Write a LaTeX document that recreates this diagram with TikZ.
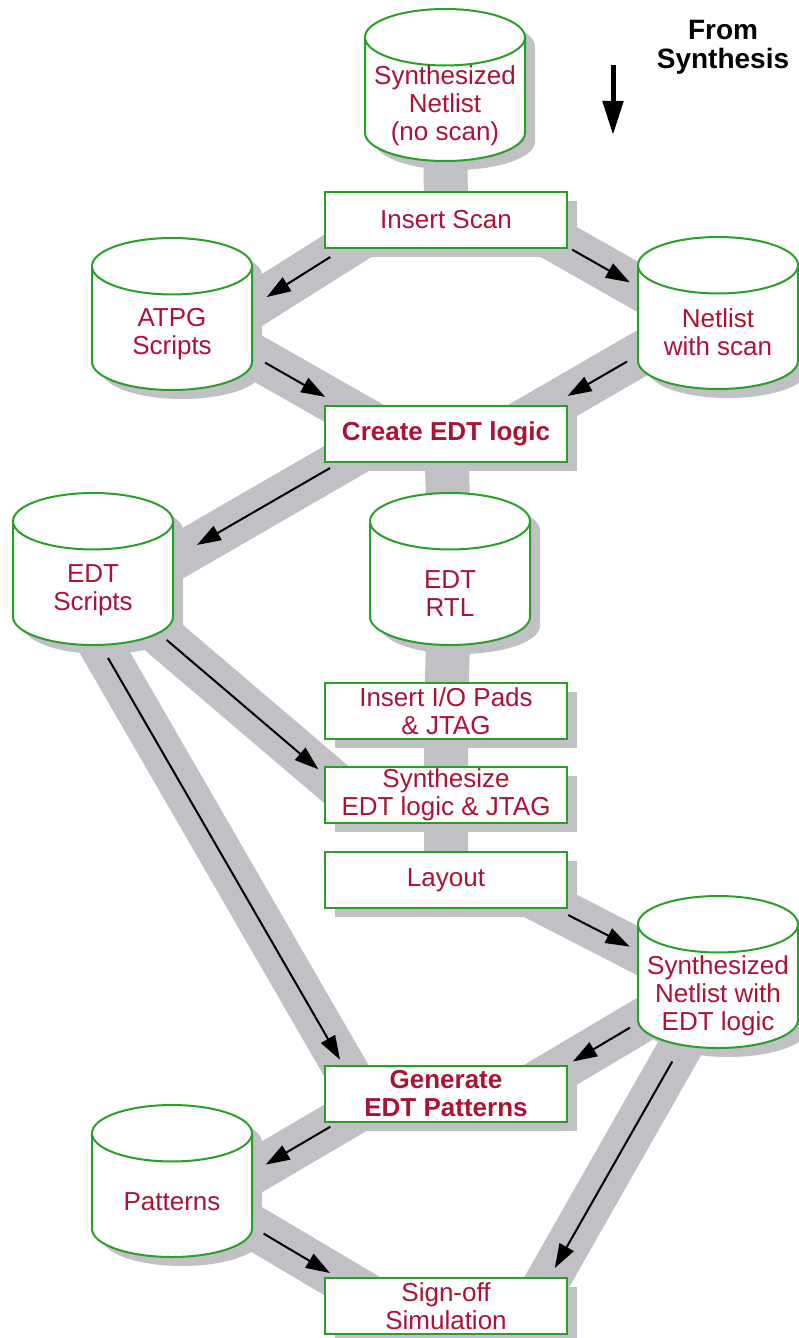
\documentclass[tikz,border=0pt]{standalone}
\usepackage{fontspec}
\setmainfont{Liberation Sans}
\usetikzlibrary{shapes.geometric, shadows, backgrounds, calc, arrows.meta}
\definecolor{edtred}{RGB}{172,18,52}
\definecolor{edtgreen}{RGB}{40,160,40}
\definecolor{bandgray}{RGB}{192,192,197}

\tikzset{
  boxshadow/.style={drop shadow={shadow xshift=5pt, shadow yshift=-4.5pt, fill=bandgray, opacity=1}},
  stepbox/.style={draw=edtgreen, line width=0.6pt, fill=white, text=edtred,
    minimum width=121pt, minimum height=28pt, inner sep=0pt, align=center,
    font=\fontsize{13}{14}\selectfont, boxshadow},
  store/.style={cylinder, shape border rotate=90, aspect=0.56, anchor=shape center,
    draw=edtgreen, line width=1pt, fill=white, inner sep=1pt,
    minimum width=80pt, minimum height=76pt, font=\fontsize{13}{14}\selectfont,
    boxshadow},
  storetext/.style={text=edtred, align=center, inner sep=0pt,
    font=\fontsize{13}{14}\selectfont},
  band/.style={draw=bandgray, line width=22pt},
  flow/.style={draw=black, line width=1pt, -{Triangle[length=12pt, width=8pt]}},
  inflow/.style={draw=black, line width=2.5pt, -{Triangle[length=17pt, width=10pt]}}
}
\newcommand{\storebody}{\phantom{Patterns}}

\begin{document}
\begin{tikzpicture}[x=0.5pt, y=-0.5pt]
  \useasboundingbox (0,0) rectangle (798,1338);

  % stores
  \node[store] (netin) at (445,85)   {\storebody};
  \node[store] (atpg)  at (172,314)  {\storebody};
  \node[store] (nscan) at (718,313)  {\storebody};
  \node[store] (edts)  at (93,569)   {\storebody};
  \node[store] (rtl)   at (450,569)  {\storebody};
  \node[store] (sedt)  at (718,972)  {\storebody};
  \node[store] (pat)   at (172,1181) {\storebody};

  \node[storetext] (netin-t) at ([yshift=-10.5pt]netin.shape center) {Synthesized\\Netlist\\(no scan)};
  \node[storetext] (atpg-t)  at ([yshift=-10pt]atpg.shape center)    {ATPG\\Scripts};
  \node[storetext] (nscan-t) at ([yshift=-9.5pt]nscan.shape center)  {Netlist\\with scan};
  \node[storetext] (edts-t)  at ([yshift=-10.5pt]edts.shape center)  {EDT\\Scripts};
  \node[storetext] (rtl-t)   at ([yshift=-12.5pt]rtl.shape center)   {EDT\\RTL};
  \node[storetext] (sedt-t)  at ([yshift=-12pt]sedt.shape center)    {Synthesized\\Netlist with\\EDT logic};
  \node[storetext] (pat-t)   at ([yshift=-10.5pt]pat.shape center)   {Patterns};

  % steps
  \node[stepbox] (ins)  at (446,220)  {Insert Scan};
  \node[stepbox] (cre)  at (446,434)  {\bfseries Create EDT logic};
  \node[stepbox] (pads) at (446,711)  {Insert I/O Pads\\\& JTAG};
  \node[stepbox] (syn)  at (446,795)  {Synthesize\\EDT logic \& JTAG};
  \node[stepbox] (lay)  at (446,880)  {Layout};
  \node[stepbox] (gen)  at (446,1094) {\bfseries Generate\\\bfseries EDT Patterns};
  \node[stepbox] (sig)  at (446,1306) {Sign-off\\Simulation};

  \node[font=\fontsize{14}{14.5}\selectfont\bfseries, align=center] (fromsyn) at (723,47) {From\\Synthesis};
  \coordinate (synin)  at (613,65);
  \coordinate (synout) at (613,135);
  \draw[inflow] (synin) -- (synout);

  % ends of the links
  \coordinate (ins-atpg)  at ($(ins)+(-65,5)$);
  \coordinate (atpg-ins)  at ($(atpg.shape center)+(44,15)$);
  \coordinate (ins-nscan) at ($(ins)+(74,0)$);
  \coordinate (nscan-ins) at ($(nscan.shape center)+(-36,-1)$);
  \coordinate (atpg-cre)  at ($(atpg.shape center)+(41,19)$);
  \coordinate (cre-atpg)  at ($(cre)+(-60,-2.5)$);
  \coordinate (nscan-cre) at ($(nscan.shape center)+(-39,18.5)$);
  \coordinate (cre-nscan) at ($(cre)+(61,-3)$);
  \coordinate (cre-edts)  at ($(cre)+(-64,4)$);
  \coordinate (edts-cre)  at ($(edts.shape center)+(52,6)$);
  \coordinate (edts-syn)  at ($(edts.shape center)+(28,32)$);
  \coordinate (syn-edts)  at ($(syn)+(-101,-3)$);
  \coordinate (edts-gen)  at ($(edts.shape center)+(-15,37)$);
  \coordinate (gen-edts)  at ($(gen)+(-88.5,-4)$);
  \coordinate (lay-sedt)  at ($(lay)+(54,0)$);
  \coordinate (sedt-lay)  at ($(sedt.shape center)+(-35,2)$);
  \coordinate (sedt-gen)  at ($(sedt.shape center)+(-36.5,25)$);
  \coordinate (gen-sedt)  at ($(gen)+(84,-7)$);
  \coordinate (sedt-sig)  at ($(sedt.shape center)+(-21,46)$);
  \coordinate (sig-sedt)  at ($(sig)+(94,-12)$);
  \coordinate (gen-pat)   at ($(gen)+(-60,0)$);
  \coordinate (pat-gen)   at ($(pat.shape center)+(42,14)$);
  \coordinate (pat-sig)   at ($(pat.shape center)+(40,22)$);
  \coordinate (sig-pat)   at ($(sig)+(-73,-7.5)$);

  % grey bands behind everything
  \begin{scope}[on background layer]
    \draw[band] (netin.shape center) -- (ins.center);
    \draw[band] (cre.center) -- (rtl.shape center) -- (pads.center) -- (syn.center) -- (lay.center);
    \foreach \s/\t in {ins/atpg, ins/nscan, atpg/cre, nscan/cre, cre/edts, edts/syn,
                       edts/gen, lay/sedt, sedt/gen, sedt/sig, gen/pat, pat/sig}
      \draw[band] (\s-\t) -- (\t-\s);
  \end{scope}

  % arrows
  \foreach \s/\t/\a/\b in {ins/atpg/30/30, ins/nscan/30/30, atpg/cre/30/35, nscan/cre/30/35,
                           cre/edts/30/30, edts/syn/30/17.5, edts/gen/30/17.5, lay/sedt/38.3/30,
                           sedt/gen/30/25, sedt/sig/25/15, gen/pat/32.3/30, pat/sig/30/25}
    \draw[flow, shorten <=\a pt, shorten >=\b pt] (\s-\t) -- (\t-\s);
\end{tikzpicture}
\end{document}
